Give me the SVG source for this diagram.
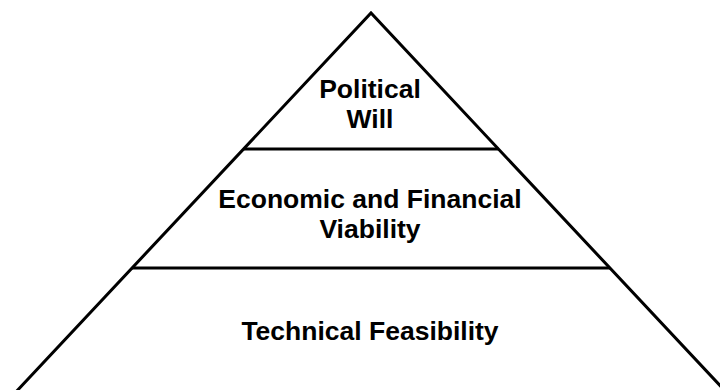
<svg xmlns="http://www.w3.org/2000/svg" width="720" height="390" viewBox="0 0 720 390">
  <style>
    .edge { stroke: #000; stroke-width: 3; fill: none; stroke-linejoin: miter; }
    .lbl { font-family: "Liberation Sans", Arial, sans-serif; font-weight: bold; font-size: 26.5px; fill: #000; text-anchor: middle; }
  </style>
  <rect width="720" height="390" fill="#fff"/>
  <g id="connectors">
    <polyline class="edge" points="8.4,400 371,13 733.6,400"/>
    <line class="edge" x1="243.5" y1="149" x2="498.5" y2="149"/>
    <line class="edge" x1="132" y1="268" x2="610" y2="268"/>
  </g>
  <g id="political-will">
    <text class="lbl" x="370" y="98">Political</text>
    <text class="lbl" x="370" y="128">Will</text>
  </g>
  <g id="economic-financial-viability">
    <text class="lbl" x="370" y="208">Economic and Financial</text>
    <text class="lbl" x="370" y="238">Viability</text>
  </g>
  <g id="technical-feasibility">
    <text class="lbl" x="370" y="340">Technical Feasibility</text>
  </g>
</svg>
